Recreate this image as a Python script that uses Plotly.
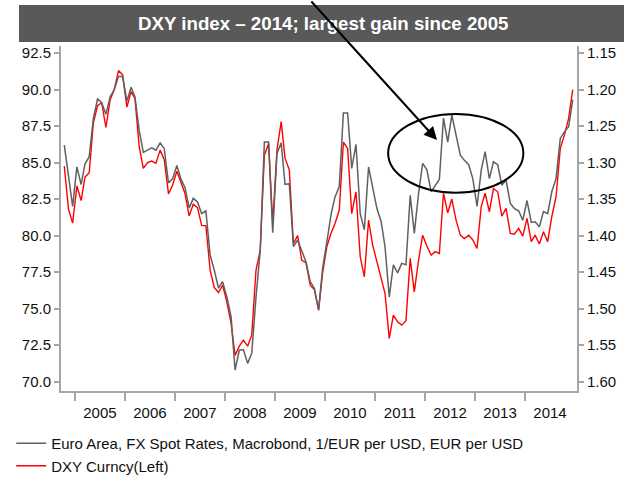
import pandas as pd
import plotly.graph_objects as go

# Monthly observations, Oct 2004 - Dec 2014
months = pd.date_range(start="2004-10-01", periods=123, freq="MS") + pd.Timedelta(days=14)

# DXY Curncy (left axis)
dxy = [
    84.76, 81.8, 80.85, 83.4, 82.4, 84.0, 84.3, 87.7, 88.9, 89.1, 87.4, 89.3,
    90.0, 91.3, 91.0, 88.8, 89.85, 89.4, 86.1, 84.6, 85.0, 85.1, 84.95, 85.85,
    85.2, 82.85, 83.46, 84.4, 83.6, 82.9, 81.35, 82.15, 81.9, 80.7, 80.67, 77.64,
    76.45, 76.1, 76.6, 75.47, 73.99, 71.8, 72.43, 72.84, 72.43, 73.2, 77.64, 79.0,
    85.5, 86.3, 80.8, 85.85, 87.8, 85.3, 84.5, 79.46, 80.0, 78.3, 78.14, 76.6,
    76.3, 74.9, 77.5, 79.27, 80.2, 80.83, 81.75, 86.4, 85.97, 81.5, 83.0, 78.55,
    77.18, 81.06, 79.35, 78.2, 77.18, 76.04, 72.96, 74.55, 74.1, 73.87, 74.17, 78.44,
    76.15, 78.32, 80.03, 79.27, 78.66, 78.9, 78.78, 82.9, 81.56, 82.5, 81.06, 80.03,
    79.8, 80.03, 79.7, 79.12, 82.0, 82.9, 81.63, 83.23, 83.0, 81.33, 81.86, 80.15,
    80.1, 80.49, 79.96, 81.18, 79.58, 80.03, 79.42, 80.26, 79.58, 81.29, 82.66, 85.97,
    86.88, 88.03, 90.0,
]

# Euro Area FX spot rate (right axis, inverted)
eur = [
    1.276, 1.320, 1.360, 1.306, 1.330, 1.302, 1.292, 1.240, 1.213, 1.218, 1.234, 1.210,
    1.200, 1.182, 1.182, 1.216, 1.197, 1.210, 1.256, 1.286, 1.283, 1.280, 1.283, 1.273,
    1.281, 1.328, 1.322, 1.304, 1.323, 1.334, 1.362, 1.349, 1.354, 1.370, 1.366, 1.427,
    1.447, 1.472, 1.463, 1.484, 1.511, 1.584, 1.557, 1.556, 1.575, 1.561, 1.484, 1.420,
    1.272, 1.272, 1.396, 1.288, 1.273, 1.330, 1.329, 1.415, 1.406, 1.420, 1.436, 1.463,
    1.472, 1.502, 1.444, 1.408, 1.370, 1.347, 1.333, 1.232, 1.232, 1.308, 1.275, 1.370,
    1.392, 1.306, 1.335, 1.363, 1.381, 1.415, 1.484, 1.440, 1.451, 1.438, 1.440, 1.345,
    1.397, 1.342, 1.301, 1.310, 1.340, 1.332, 1.323, 1.239, 1.272, 1.235, 1.262, 1.290,
    1.297, 1.303, 1.322, 1.360, 1.310, 1.285, 1.322, 1.299, 1.303, 1.331, 1.324, 1.356,
    1.363, 1.366, 1.379, 1.352, 1.382, 1.381, 1.388, 1.367, 1.370, 1.340, 1.322, 1.267,
    1.258, 1.251, 1.214,
]

year_labels = ["2005", "2006", "2007", "2008", "2009", "2010", "2011", "2012", "2013", "2014"]
left_ticks = [70.0, 72.5, 75.0, 77.5, 80.0, 82.5, 85.0, 87.5, 90.0, 92.5]
right_ticks = [1.15, 1.20, 1.25, 1.30, 1.35, 1.40, 1.45, 1.50, 1.55, 1.60]

title_text = "DXY index \u2013 2014; largest gain since 2005"
name_eur = "Euro Area, FX Spot Rates, Macrobond, 1/EUR per USD, EUR per USD"
name_dxy = "DXY Curncy(Left)"

FONT = "Liberation Sans, Arial, sans-serif"
AXIS = "#a6a6a6"

fig = go.Figure()
fig.add_trace(go.Scatter(x=months, y=dxy, name=name_dxy, mode="lines",
                         line=dict(color="#ff0000", width=1.4), legendrank=2))
fig.add_trace(go.Scatter(x=months, y=eur, name=name_eur, mode="lines", yaxis="y2",
                         line=dict(color="#606060", width=1.5), legendrank=1))

mid_year = [f"{y}-07-02" for y in year_labels]
year_start = [f"{y}-01-01" for y in year_labels]

fig.update_layout(
    width=624, height=479,
    margin=dict(l=61, r=47, t=46, b=88, autoexpand=False),
    paper_bgcolor="white", plot_bgcolor="white",
    font=dict(family=FONT, size=15, color="#111111"),
    showlegend=True,
    legend=dict(xref="container", yref="container", x=0.018, xanchor="left",
                y=0.1086, yanchor="top",
                font=dict(size=15, color="#111111"), bgcolor="rgba(0,0,0,0)",
                tracegroupgap=0, itemwidth=30),
    xaxis=dict(
        type="date", range=["2004-09-21", "2015-01-15"],
        tickmode="array", tickvals=mid_year, ticktext=year_labels,
        ticks="outside", ticklen=7, tickcolor="rgba(0,0,0,0)",
        minor=dict(tickmode="array", tickvals=year_start, ticks="outside",
                   ticklen=8, tickcolor=AXIS, tickwidth=1.5, showgrid=False),
        showline=True, linecolor=AXIS, linewidth=2, showgrid=False, zeroline=False,
        tickfont=dict(size=15),
    ),
    yaxis=dict(
        range=[69.36, 92.98], tickmode="array", tickvals=left_ticks,
        tickformat=".1f", ticks="outside", ticklen=5, tickcolor=AXIS, tickwidth=1.5,
        showline=True, linecolor=AXIS, linewidth=2, showgrid=False, zeroline=False,
        tickfont=dict(size=15),
    ),
    yaxis2=dict(
        overlaying="y", side="right", range=[1.6128, 1.1404],
        tickmode="array", tickvals=right_ticks, tickformat=".2f",
        ticks="outside", ticklen=5, tickcolor=AXIS, tickwidth=1.5,
        showline=True, linecolor=AXIS, linewidth=2, showgrid=False, zeroline=False,
        tickfont=dict(size=15),
    ),
)

# title bar
fig.add_shape(type="rect", xref="paper", yref="paper",
              x0=-0.0814, x1=1.1, y0=1.0116, y1=1.1188,
              fillcolor="#595959", line=dict(width=0), layer="above")
fig.add_annotation(text=f"<b>{title_text}</b>", xref="paper", yref="paper",
                   x=0.508, y=1.065, xanchor="center", yanchor="middle",
                   showarrow=False, font=dict(size=18.7, color="white", family=FONT))

# ellipse highlight
fig.add_shape(type="circle", xref="paper", yref="paper",
              x0=0.634, x1=0.896, y0=0.575, y1=0.803,
              line=dict(color="black", width=2), fillcolor="rgba(0,0,0,0)", layer="above")

# arrow
fig.add_annotation(x=0.7287, y=0.7275, xref="paper", yref="paper",
                   ax=-127, ay=-140, text="", showarrow=True,
                   arrowhead=2, arrowsize=1.3, arrowwidth=2, arrowcolor="black")

# source line (mostly below the visible frame, as in the original)
fig.add_annotation(text="Source: Macrobond", xref="paper", yref="paper",
                   x=0.851, y=-0.2406, xanchor="left", yanchor="top",
                   showarrow=False, font=dict(size=15, color="#111111"))

fig.write_html(
    "out.html",
    config={"displayModeBar": False},
    post_script="document.body.style.margin='0';document.body.style.overflow='hidden';",
)
